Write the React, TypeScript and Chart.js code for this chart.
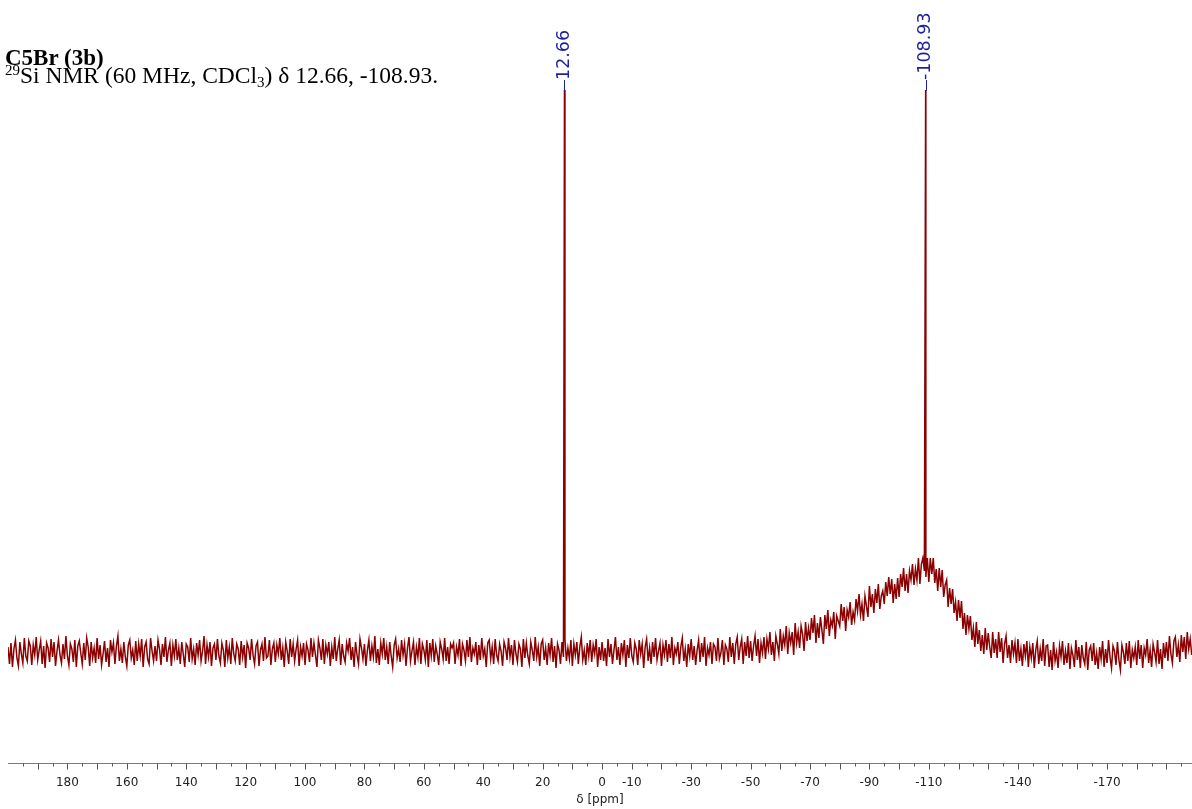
import React, { useEffect, useRef } from 'react';
import { Chart, registerables } from 'chart.js';

Chart.register(...registerables);

// ---- spectrum sampling grid (ppm) ----
const spectrumStartPpm = 200;
const spectrumStepPpm = -0.5;

// ---- intensities (1 unit ≈ 1 px above baseline) ----
const block200to150 = [
  5, -12, 9, -15, 3, 12, -6, -14, 10, -2, -11, 14, -4, -9, 11, 6, -13, 7, -3, 15,
  -8, 2, 11, -12, 6, -16, 9, 4, -10, 13, -5, 10, -14, 1, 12, -3, -11, 8, -7, 16,
  -4, -13, 8, 3, -10, 12, -15, 6, 11, -1, -12, 9, -8, 14, 5, -14, 10, -6, 4, -11,
  14, -7, 7, -13, -2, 11, -10, 4, -15, 12, 0, 9, -12, 6, 16, -9, 3, -11, 10, -5,
  -14, 7, 12, -6, 2, -13, 11, -9, 8, -4, 13, -15, 5, 10, -7, -12, 14, 1, -9, 6,
];
const block150to100 = [
  -9, 12, 3, -13, 8, -5, 15, -10, 2, 9, -14, 7, -4, 13, -8, 4, -12, 10, -2, -15,
  8, 5, -10, 14, -7, 3, -13, 9, -3, 12, -9, 1, 16, -12, 7, -5, 10, -14, 4, 8,
  -8, 13, -4, -11, 9, 2, -15, 12, -6, 5, -12, 14, -2, -9, 8, 3, -13, 11, -5, 7,
  -16, 9, 4, -8, 13, -3, -12, 6, 10, -14, 2, 8, -9, 15, -6, -4, 12, -13, 3, 9,
  -10, 7, -2, 14, -8, 4, -15, 10, 1, -12, 13, -5, 8, -9, 3, 12, -14, 5, -4, 9,
];
const block100to50 = [
  -13, 8, 2, -10, 14, -5, 9, -3, -15, 12, 4, -8, 13, -12, 7, -2, 10, -14, 5, -7,
  15, -9, 3, 12, -13, 8, -4, -10, 9, 1, 14, -8, 5, -15, 10, -3, -12, 13, 4, -7,
  8, -14, 2, 12, -9, 6, -5, 16, -11, 3, -13, 9, -2, 14, -8, 5, -12, 10, -4, -15,
  7, 13, -6, 3, -10, 12, -3, 8, -14, 4, 15, -9, 1, 10, -13, 5, -5, 14, -12, 8,
  2, -8, 12, -15, 9, -4, 13, -10, 6, -2, -13, 10, 3, -7, 14, -9, 5, -12, 8, 4,
];
const block50to0 = [
  9, -12, 5, -3, 13, -14, 8, 2, -9, 12, -5, 15, -10, 4, -2, 10, -13, 7, -8, 14,
  -4, 3, -15, 9, 12, -7, 5, -12, 13, -3, -9, 8, 1, -14, 10, 4, -8, 14, -5, 7,
  -13, 12, -2, -10, 8, 3, -15, 13, -6, 9, -4, -12, 10, 2, -9, 15, -5, 5, -14, 8,
  12, -8, 4, -13, 9, -3, 14, -10, 6, -16, 8, 2, -12, 10, -5, 13, -9, 4, -7, 12,
  -14, 8, -3, 10, -12, 5, 15, -8, 2, -13, 9, -4, 12, -10, 7, -2, 13, -15, 5, -8,
];
const block0toM50 = [
  10, -9, 4, -14, 13, -5, 8, -12, 2, 15, -8, 5, -13, 9, -3, 12, -15, 7, -6, 14,
  -4, -10, 9, 3, -13, 12, -2, 8, -16, 5, 13, -9, 4, -12, 10, -5, 14, -8, 1, 9,
  -14, 7, -3, 12, -10, 8, -6, 15, -13, 4, -2, 10, -12, 5, 14, -9, 3, -15, 8, -4,
  13, -8, 6, -13, 2, 12, -10, 9, -5, 15, -14, 4, -3, 10, -12, 8, 5, -9, 14, -7,
  -1, 12, -13, 7, 3, -10, 15, -5, 9, -12, 8, 15, -8, 5, 13, -12, 10, -4, 16, -6,
];
const blockM50toM100 = [
  11, -9, 6, 16, -4, 13, -11, 9, -1, 15,
  -7, 13, 3, 20, -3, 10, -9, 16, 8, -2,
  23, 1, 16, 7, 26, -2, 19, 9, 20, -3,
  29, 9, 20, 4, 26, 18, 1, 30, 11, 24,
  12, 34, 19, 37, 9, 29, 14, 35, 22, 8,
  37, 23, 42, 16, 32, 26, 40, 13, 36, 31,
  26, 48, 31, 45, 21, 42, 35, 50, 27, 40,
  32, 53, 41, 58, 37, 48, 31, 56, 46, 35,
  66, 45, 58, 39, 63, 49, 68, 43, 56, 61,
  48, 70, 56, 75, 58, 73, 49, 68, 53, 74,
];
const blockM100toM150 = [
  55, 78, 65, 84, 61, 78, 59, 81, 72, 88, 67, 83,
  72, 94, 68, 88, 94, 81, 75, 94, 70, 94, 78, 94,
  69, 83, 61, 84, 65, 82, 55, 67, 72, 45, 64, 48,
  63, 39, 50, 31, 52, 34, 51, 23, 39, 17, 37, 23,
  36, 12, 24, 5, 30, 8, 22, 1, 17, -2, 24, 2,
  19, 5, -6, 20, -1, 13, -6, 20, 0, 14, -11, 8,
  16, -6, 7, -11, 12, -2, 9, -11,
  13, -9, 3, -14, 8, -4, 11, -15, 5, -6, 9, -16, 2, 11, -12, 3, -9, 13, -14, 6,
];
const blockM150toM199 = [
  7, -15, 2, -18, 10, -9, 0, -16, 6, -5, 11, -13, 1, -11, 9, -17, 4, -3, -15, 12,
  -8, 5, -16, 7, -6, -12, 10, -18, 2, 6, -9, 9, -13, -1, -17, 5, -7, 11, -15, 3,
  -11, 12, -5, -16, 6, 1, -13, 10, -8, -18, 7, 0, -12, 9, -9, 11, -16, 2, -6, 5,
  -13, 12, -7, 7, -16, 4, -3, 13, -11, 2, -15, 8, 0, -10, 12, -12, 3, -17, 9, -6,
  10, -9, 16, -2, -11, 11, 15, -5, 7, -10, 17, 0, 15, -7, 20, 3, 13, -3,
];

// ---- sharp peaks ----
const peakPpm = [12.66, -108.93];
const peakIntensity = [562, 562];
const peakLabels = ['12.66', '-108.93'];

// ---- axis ----
const tickLabelValues = [180, 160, 140, 120, 100, 80, 60, 40, 20, 0, -10, -30, -50, -70, -90, -110, -140, -170];
const axisMaxPpm = 200;
const axisMinPpm = -198.6;
const axisTitle = 'δ [ppm]';

const titleLine1 = 'C5Br (3b)';

const decorPlugin = {
  id: 'nmrDecor',
  afterDraw(chart: any) {
    const ctx = chart.ctx;
    const xs = chart.scales.x;
    const ys = chart.scales.y;
    const axisY = Math.round(xs.top) + 0.5;
    ctx.save();
    ctx.strokeStyle = '#555';
    ctx.lineWidth = 1;
    ctx.beginPath();
    for (let v = 195; v >= -195; v -= 5) {
      const px = Math.round(xs.getPixelForValue(v)) + 0.5;
      const len = v % 10 === 0 ? 6 : 3;
      ctx.moveTo(px, axisY);
      ctx.lineTo(px, axisY + len);
    }
    ctx.stroke();

    ctx.strokeStyle = '#1f1fa0';
    ctx.fillStyle = '#1f1fa0';
    ctx.font = '17.5px "DejaVu Sans"';
    peakPpm.forEach((p, i) => {
      const px = xs.getPixelForValue(p);
      const top = ys.getPixelForValue(peakIntensity[i]);
      const labelY = top - 10;
      ctx.beginPath();
      ctx.moveTo(Math.round(px) + 0.5, labelY);
      ctx.lineTo(Math.round(px) + 0.5, top + 1);
      ctx.stroke();
      ctx.save();
      ctx.translate(px, labelY);
      ctx.rotate(-Math.PI / 2);
      ctx.textAlign = 'left';
      ctx.textBaseline = 'middle';
      ctx.fillText(peakLabels[i], 0, 0);
      ctx.restore();
    });
    ctx.restore();
  },
};

export default function App() {
  const canvasRef = useRef<HTMLCanvasElement | null>(null);

  useEffect(() => {
    const canvas = canvasRef.current;
    if (!canvas) return;
    const intensities = [
      ...block200to150,
      ...block150to100,
      ...block100to50,
      ...block50to0,
      ...block0toM50,
      ...blockM50toM100,
      ...blockM100toM150,
      ...blockM150toM199,
    ];
    const points = intensities.map((v, i) => ({ x: spectrumStartPpm + i * spectrumStepPpm, y: v }));
    peakPpm.forEach((p, i) => points.push({ x: p, y: peakIntensity[i] }));
    points.sort((a, b) => b.x - a.x);

    const chart = new Chart(canvas, {
      type: 'line',
      data: {
        datasets: [
          {
            data: points,
            borderColor: '#8b0000',
            borderWidth: 1.5,
            pointRadius: 0,
            tension: 0,
            fill: false,
          },
        ],
      },
      options: {
        animation: false,
        responsive: false,
        events: [],
        layout: { padding: { left: 8, right: 0, top: 0, bottom: 0 } },
        plugins: { legend: { display: false }, tooltip: { enabled: false } },
        scales: {
          x: {
            type: 'linear',
            reverse: true,
            min: axisMinPpm,
            max: axisMaxPpm,
            afterFit: (s: any) => {
              s.height = 46;
            },
            afterBuildTicks: (s: any) => {
              s.ticks = tickLabelValues.map((v) => ({ value: v }));
            },
            grid: { display: false, drawTicks: false },
            border: { display: true, color: '#7a7a7a', width: 1 },
            ticks: {
              autoSkip: false,
              maxRotation: 0,
              padding: 13,
              color: '#222',
              font: { family: 'DejaVu Sans', size: 12 },
              callback: (v: any) => String(v),
            },
            title: {
              display: true,
              text: axisTitle,
              color: '#222',
              font: { family: 'DejaVu Sans', size: 12 },
              padding: { top: 0, bottom: 2 },
            },
          },
          y: { display: false, min: -111, max: 652 },
        },
      },
      plugins: [decorPlugin],
    } as any);
    return () => chart.destroy();
  }, []);

  return (
    <div style={{ position: 'absolute', left: 0, top: 0, width: 1192, height: 809, overflow: 'hidden', background: '#fff' }}>
      <canvas ref={canvasRef} width={1192} height={809} style={{ display: 'block', width: 1192, height: 809 }} />
      <div
        style={{
          position: 'absolute',
          left: 5,
          top: 45.7,
          font: 'bold 23px "Liberation Serif"',
          lineHeight: '23px',
          whiteSpace: 'nowrap',
          color: '#000',
        }}
      >
        {titleLine1}
      </div>
      <div
        style={{
          position: 'absolute',
          left: 5,
          top: 63.5,
          font: '23.5px "Liberation Serif"',
          lineHeight: '23px',
          whiteSpace: 'nowrap',
          color: '#000',
        }}
      >
        <sup style={{ fontSize: 15, verticalAlign: '8px', lineHeight: 0 }}>29</sup>Si NMR (60 MHz, CDCl
        <sub style={{ fontSize: 15, verticalAlign: '-4px', lineHeight: 0 }}>3</sub>) δ 12.66, -108.93.
      </div>
    </div>
  );
}
